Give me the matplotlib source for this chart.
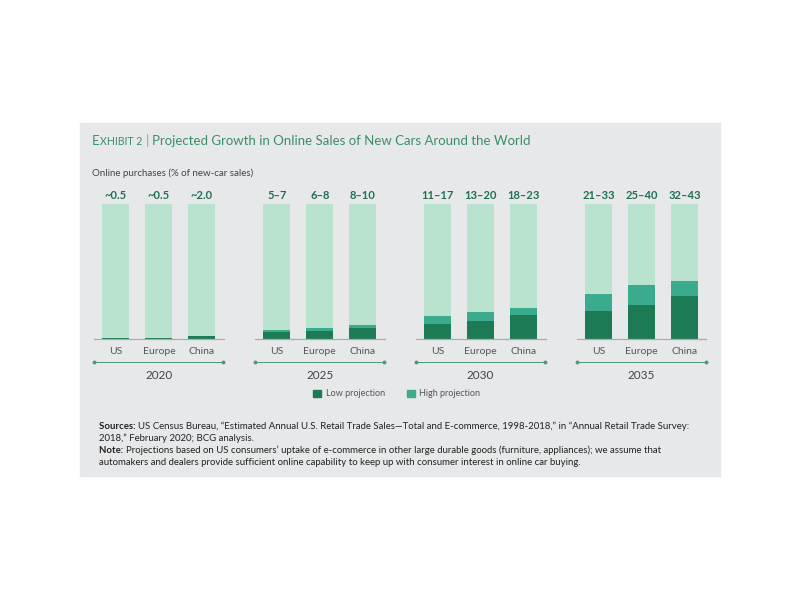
import numpy as np
import matplotlib.pyplot as plt
from matplotlib.patches import Rectangle, Patch

plt.rcParams['font.family'] = ['Lato', 'DejaVu Sans']

regions = ['US', 'Europe', 'China']
years = ['2020', '2025', '2030', '2035']
low = [[0.5, 0.5, 2.0], [5, 6, 8], [11, 13, 18], [21, 25, 32]]
high = [[0.5, 0.5, 2.0], [7, 8, 10], [17, 20, 23], [33, 40, 43]]
range_labels = [['~0.5', '~0.5', '~2.0'],
                ['5–7', '6–8', '8–10'],
                ['11–17', '13–20', '18–23'],
                ['21–33', '25–40', '32–43']]

c_bg = '#b9e2cf'
c_high = '#3aab8c'
c_low = '#1c7a55'
c_text = '#1f7050'
c_title = '#3a8f6b'

fig = plt.figure(figsize=(8, 6), dpi=100)
fig.patches.append(Rectangle((0.1, 1 - 476 / 600), 0.8, (476 - 123) / 600,
                             transform=fig.transFigure, color='#e7e8e9', zorder=-10))

ax = fig.add_axes([94 / 800, 1 - 339 / 600, 612 / 800, 135 / 600])
ax.patch.set_alpha(0)
ax.axis('off')

gap = 3.74
w = 0.63
for g, yr in enumerate(years):
    xs = g * gap + np.arange(3)
    ax.bar(xs, 100, width=w, color=c_bg, zorder=1)
    ax.bar(xs, high[g], width=w, color=c_high, zorder=2)
    ax.bar(xs, low[g], width=w, color=c_low, zorder=3)
    ax.plot([xs[0] - 0.51, xs[2] + 0.51], [0, 0], color='#a9adb0', lw=0.9,
            zorder=4, clip_on=False)
    for x, lab, reg in zip(xs, range_labels[g], regions):
        ax.text(x, 106.5, lab, ha='center', va='center', fontsize=8,
                fontweight='bold', color=c_text)
        ax.text(x, -9, reg, ha='center', va='center', fontsize=7.5,
                color='#555555')
    ax.plot([xs[0] - 0.5, xs[2] + 0.5], [-17, -17], color='#4a9a78', lw=0.7,
            marker='o', markersize=1.8, clip_on=False)
    ax.text(xs[1], -27, yr, ha='center', va='center', fontsize=8.5,
            color='#444444')

ax.set_xlim(-0.51, 3 * gap + 2.5)
ax.set_ylim(0, 100)

# title with small-caps "Exhibit"
t1 = fig.text(92 / 800, 1 - 145 / 600, 'E', fontsize=9.5, color=c_title,
              va='baseline')
t2 = ax.annotate('XHIBIT 2', xy=(1, 0), xycoords=t1, va='bottom',
                 fontsize=7.6, color=c_title)
t3 = ax.annotate('|', xy=(1, 0), xycoords=t2, va='bottom', xytext=(2.5, 0),
                 textcoords='offset points', fontsize=9.5, color='#999999')
ax.annotate('Projected Growth in Online Sales of New Cars Around the World',
            xy=(1, 0), xycoords=t3, va='bottom', xytext=(2.5, 0),
            textcoords='offset points', fontsize=9.5, color=c_title)

fig.text(92 / 800, 1 - 173 / 600, 'Online purchases (% of new-car sales)',
         fontsize=7, color='#444444', va='center')

handles = [Patch(color=c_low, label='Low projection'),
           Patch(color=c_high, label='High projection')]
leg = fig.legend(handles=handles, loc='center', bbox_to_anchor=(0.496, 1 - 394 / 600),
                 ncol=2, frameon=False, fontsize=6.5, handlelength=0.9,
                 handleheight=0.9, columnspacing=2.4, handletextpad=0.5)
for t in leg.get_texts():
    t.set_color('#555555')

# footnotes
lines = [
    ('Sources: ', 'US Census Bureau, “Estimated Annual U.S. Retail Trade Sales—Total and '
                  'E-commerce, 1998-2018,” in “Annual Retail Trade Survey:'),
    ('', '2018,” February 2020; BCG analysis.'),
    ('Note: ', 'Projections based on US consumers’ uptake of e-commerce in other large '
               'durable goods (furniture, appliances); we assume that'),
    ('', 'automakers and dealers provide sufficient online capability to keep up with '
         'consumer interest in online car buying.'),
]
y0 = 429
for i, (bold, rest) in enumerate(lines):
    y = 1 - (y0 + i * 12) / 600
    if bold:
        b = fig.text(99 / 800, y, bold, fontsize=6.95, fontweight='bold',
                     color='#222222', va='baseline')
        ax.annotate(rest, xy=(1, 0), xycoords=b, va='bottom', fontsize=6.95,
                    color='#222222', annotation_clip=False)
    else:
        fig.text(99 / 800, y, rest, fontsize=6.95, color='#222222', va='baseline')

fig.savefig('out.png', dpi=100, facecolor='white')
